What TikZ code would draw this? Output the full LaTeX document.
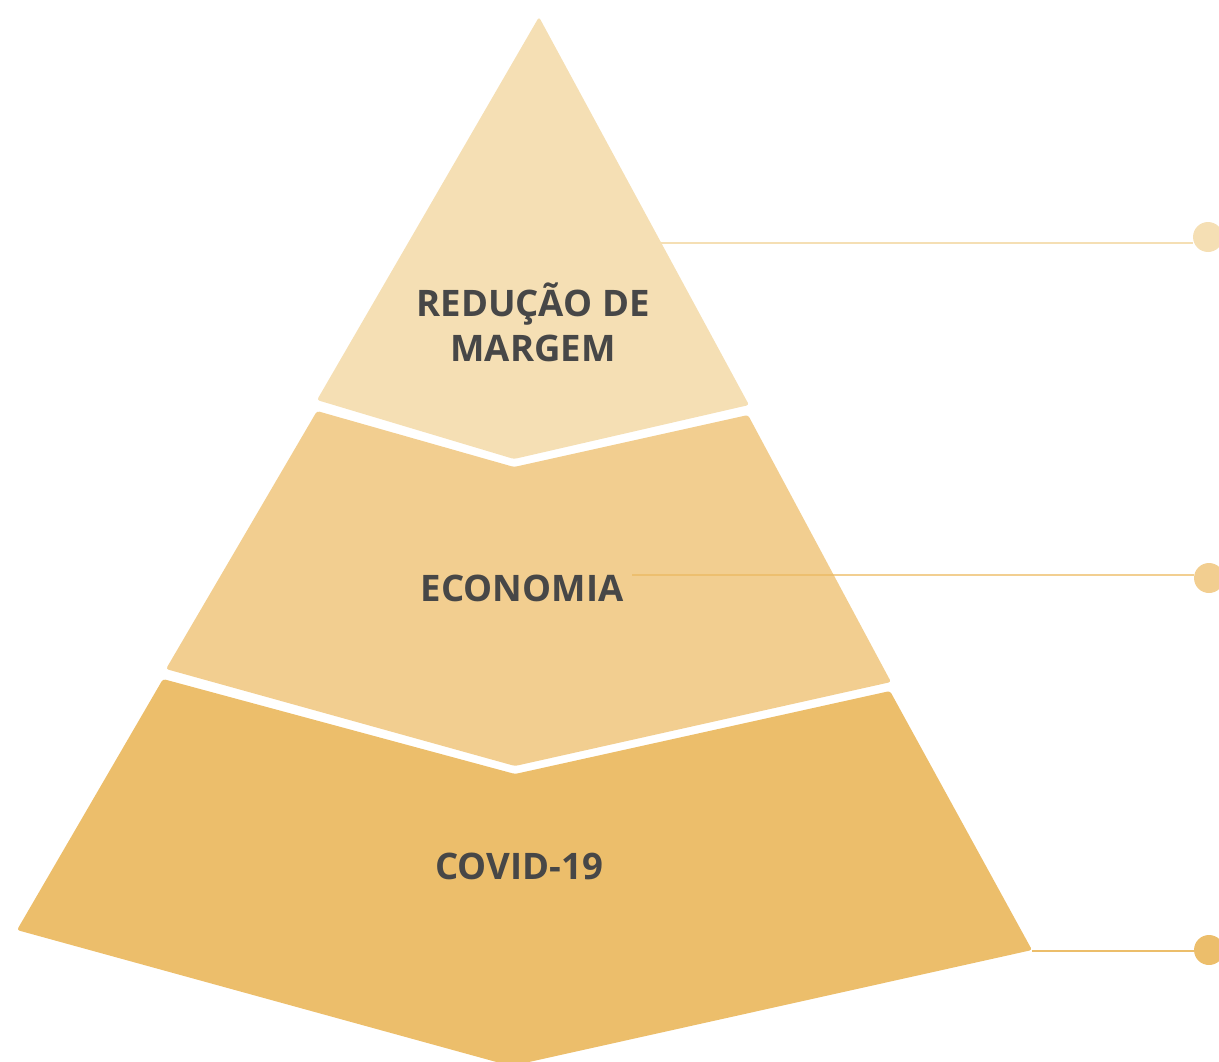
\documentclass[tikz,border=0pt]{standalone}
\usepackage{fontspec}
\setmainfont{Open Sans}
\definecolor{tier1}{HTML}{F5DFB4}
\definecolor{tier2}{HTML}{F2CE90}
\definecolor{tier3}{HTML}{ECBE6B}
\definecolor{label}{HTML}{474747}
\definecolor{lead2}{HTML}{ECBA62}

\begin{document}
\begin{tikzpicture}[
    x=0.02cm, y=-0.02cm,
    tier/.style={rounded corners=1.5pt},
    title/.style={text=label, font=\fontsize{20.8}{25.5}\selectfont\bfseries, align=center},
    dot/.style={circle, minimum size=0.6cm, inner sep=0pt},
    lead/.style={line width=1.4pt},
    ]
    \clip (0,0) rectangle (1219,1061);

    % pyramid
    \fill[tier1, tier] (539,17) -- (749,405) -- (514,459) -- (317,400) -- cycle;
    \fill[tier2, tier] (317,411) -- (514,467) -- (748,415) -- (891,682) -- (515,766) -- (166,669) -- cycle;
    \fill[tier3, tier] (163,679) -- (515,774) -- (890,691) -- (1032,950) -- (511,1066) -- (17,930) -- cycle;

    \node[title] (margem) at (533,322) {REDUÇÃO DE\\MARGEM};
    \node[title] (economia) at (522,588) {ECONOMIA};
    \node[title] (covid) at (519,866) {COVID-19};

    % leaders
    \coordinate (l1) at (661,243);
    \coordinate (l2) at (632,575);
    \coordinate (l3) at (1032,951);
    \node[dot, fill=tier1] (d1) at (1208,237) {};
    \node[dot, fill=tier2] (d2) at (1209,578) {};
    \node[dot, fill=tier3] (d3) at (1209,950) {};
    \draw[lead, tier1] (l1) -- (l1 -| d1.west);
    \draw[lead, lead2, opacity=0.7] (l2) -- (l2 -| d2.west);
    \draw[lead, tier3] (l3) -- (l3 -| d3.west);
\end{tikzpicture}
\end{document}
